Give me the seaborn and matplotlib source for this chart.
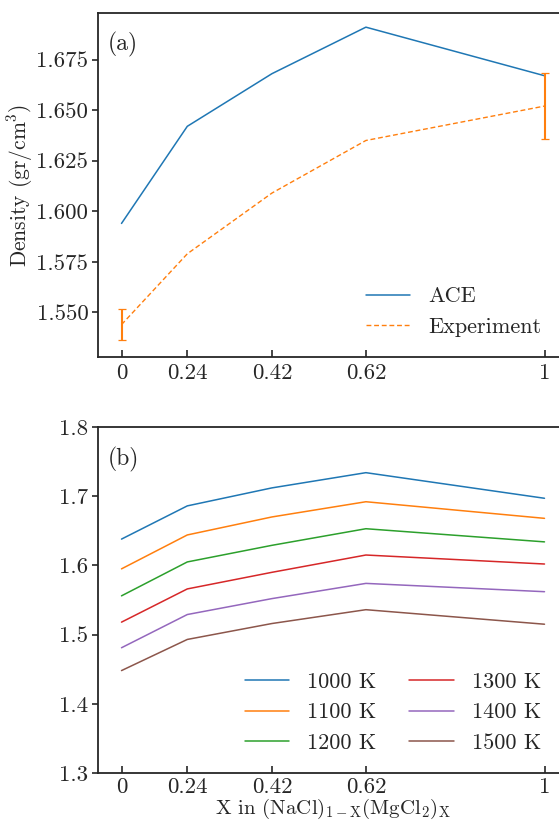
import numpy as np
import pandas as pd
import matplotlib
matplotlib.use("Agg")
import matplotlib.pyplot as plt
import seaborn as sns

# Composition positions on the axis and their tick labels
x_pos = [0.10, 0.24, 0.42, 0.62, 1.00]
x_labels = ["0", "0.24", "0.42", "0.62", "1"]

# Panel (a): ACE vs experiment
ace = [1.594, 1.642, 1.668, 1.691, 1.667]
experiment = [1.544, 1.579, 1.609, 1.635, 1.652]
exp_err = [0.0078, 0.0, 0.0, 0.0, 0.0163]

# Panel (b): ACE densities at several temperatures
temps = ["1000 K", "1100 K", "1200 K", "1300 K", "1400 K", "1500 K"]
d1000 = [1.638, 1.686, 1.712, 1.734, 1.697]
d1100 = [1.595, 1.644, 1.670, 1.692, 1.668]
d1200 = [1.556, 1.605, 1.629, 1.653, 1.634]
d1300 = [1.518, 1.566, 1.590, 1.615, 1.602]
d1400 = [1.481, 1.529, 1.552, 1.574, 1.562]
d1500 = [1.448, 1.493, 1.516, 1.536, 1.515]

sns.set_style("ticks")
plt.rcParams["font.family"] = ["cmr10", "DejaVu Serif"]
plt.rcParams["mathtext.fontset"] = "cm"
plt.rcParams["axes.unicode_minus"] = False
plt.rcParams["font.size"] = 16.5

palette = sns.color_palette("tab10")

fig = plt.figure(figsize=(5.59, 8.23), dpi=100)
W, H = 559, 823
ax_w = 470 / W
ax1 = fig.add_axes([98 / W, 1 - 357 / H, ax_w, (357 - 13) / H])
ax2 = fig.add_axes([98 / W, 1 - 773 / H, ax_w, (773 - 427) / H])

# ---- panel (a)
df_a = pd.DataFrame({
    "x": x_pos * 2,
    "density": ace + experiment,
    "source": ["ACE"] * 5 + ["Experiment"] * 5,
})
sns.lineplot(data=df_a, x="x", y="density", hue="source", style="source",
             palette=[palette[0], palette[1]],
             dashes={"ACE": "", "Experiment": (3.5, 2)},
             linewidth=1.1, ax=ax1, legend=False)
ax1.lines[0].set_label("ACE")
ax1.lines[1].set_label("Experiment")
ax1.lines[1].set_linewidth(1.0)

err_x = [x for x, e in zip(x_pos, exp_err) if e > 0]
err_y = [y for y, e in zip(experiment, exp_err) if e > 0]
err_v = [e for e in exp_err if e > 0]
ax1.errorbar(err_x, err_y, yerr=err_v, fmt="none", ecolor=palette[1],
             elinewidth=1.5, capsize=3, capthick=0.9)

ax1.set_xlim(0.05, 1.05)
ax1.set_ylim(1.528, 1.698)
ax1.set_yticks([1.550, 1.575, 1.600, 1.625, 1.650, 1.675])
ax1.set_yticklabels(["1.550", "1.575", "1.600", "1.625", "1.650", "1.675"])
ax1.set_xticks(x_pos)
ax1.set_xticklabels(x_labels)
ax1.set_xlabel("")
ax1.set_ylabel(r"Density (gr/cm$^3$)", labelpad=1, fontsize=15.5)
ax1.text(0.02, 0.945, "(a)", transform=ax1.transAxes, va="top", ha="left",
         fontsize=17)
ax1.legend(handles=ax1.lines[:2], loc="lower right", frameon=False,
           bbox_to_anchor=(0.985, 0.0), fontsize=16, handlelength=2.0)

# ---- panel (b)
series = [d1000, d1100, d1200, d1300, d1400, d1500]
df_b = pd.DataFrame({
    "x": x_pos * len(temps),
    "density": [v for s in series for v in s],
    "T": [t for t in temps for _ in x_pos],
})
sns.lineplot(data=df_b, x="x", y="density", hue="T", hue_order=temps,
             palette=palette[:6], linewidth=1.1, ax=ax2, legend=False)
for line, t in zip(ax2.lines, temps):
    line.set_label(t)

ax2.set_xlim(0.05, 1.05)
ax2.set_ylim(1.3, 1.8)
ax2.set_yticks([1.3, 1.4, 1.5, 1.6, 1.7, 1.8])
ax2.set_yticklabels(["1.3", "1.4", "1.5", "1.6", "1.7", "1.8"])
ax2.set_xticks(x_pos)
ax2.set_xticklabels(x_labels)
ax2.set_ylabel("")
ax2.text(0.02, 0.943, "(b)", transform=ax2.transAxes, va="top", ha="left",
         fontsize=17)
ax2.legend(handles=ax2.lines[:6], loc="lower right", frameon=False, ncol=2,
           bbox_to_anchor=(0.985, 0.0), fontsize=16, columnspacing=1.5,
           handlelength=2.0, handletextpad=0.8)

for ax in (ax1, ax2):
    for side in ("left", "top", "bottom", "right"):
        ax.spines[side].set_visible(True)
        ax.spines[side].set_linewidth(1.3)
    ax.tick_params(axis="x", direction="in", length=5, width=1.2, pad=5)
    ax.tick_params(axis="y", direction="out", length=4, width=1.2, pad=3)

ax2.tick_params(axis="x", pad=3)
ax2.set_xlabel(r"X in (NaCl)$_{1-\mathrm{X}}$(MgCl$_2$)$_\mathrm{X}$",
               labelpad=0, fontsize=15)

fig.savefig("out.png", dpi=100)
